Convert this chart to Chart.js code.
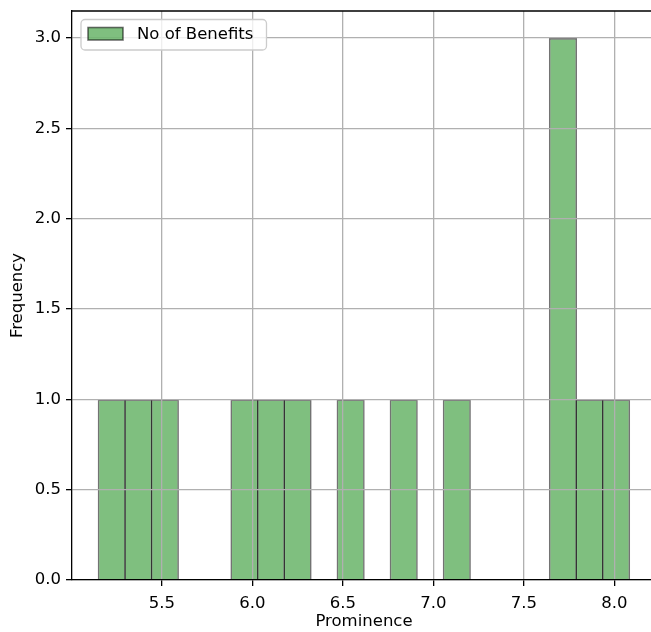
<!DOCTYPE html>
<html lang="en">
<head>
    <meta charset="UTF-8">
    <title>Prominence histogram</title>
    <script src="https://cdn.jsdelivr.net/npm/chart.js@4.4.1/dist/chart.umd.min.js"></script>
    <style>
        body {
            margin: 0;
            background: #ffffff;
            overflow: hidden;
        }
        .chart-container {
            position: relative;
            width: 660px;
            height: 632px;
        }
    </style>
</head>
<body>
    <div class="chart-container">
        <canvas id="histChart"></canvas>
    </div>

    <script>
        // --- Histogram data (20 bins) ---
        const binCenters = [5.2228, 5.3695, 5.5161, 5.6628, 5.8094, 5.9561, 6.1027, 6.2494, 6.3960, 6.5427,
                            6.6893, 6.8360, 6.9826, 7.1293, 7.2759, 7.4226, 7.5692, 7.7159, 7.8625, 8.0092];
        const binCounts  = [1, 1, 1, 0, 0, 1, 1, 1, 0, 1,
                            0, 1, 0, 1, 0, 0, 0, 3, 1, 1];
        const seriesLabel = 'No of Benefits';
        const xTicks = [5.5, 6.0, 6.5, 7.0, 7.5, 8.0];
        const yTicks = [0.0, 0.5, 1.0, 1.5, 2.0, 2.5, 3.0];
        const xRange = [5.003, 8.230];
        const yRange = [0, 3.15];

        const FONT = "'DejaVu Sans', sans-serif";
        const barFill = 'rgba(0, 128, 0, 0.5)';
        const barEdge = 'rgba(0, 0, 0, 0.55)';

        // top spine + legend box like matplotlib
        const framePlugin = {
            id: 'frame',
            afterDraw(chart) {
                const ctx = chart.ctx;
                const a = chart.chartArea;
                ctx.save();
                ctx.strokeStyle = '#000';
                ctx.lineWidth = 1.3;
                ctx.beginPath();
                ctx.moveTo(a.left, a.top);
                ctx.lineTo(a.right, a.top);
                ctx.lineTo(a.right, a.bottom);
                ctx.stroke();

                // legend
                const x0 = 81, y0 = 19.5, w = 185.5, h = 30.5, r = 4;
                ctx.beginPath();
                ctx.roundRect(x0, y0, w, h, r);
                ctx.fillStyle = 'rgba(255,255,255,0.8)';
                ctx.fill();
                ctx.strokeStyle = '#cccccc';
                ctx.lineWidth = 1.3;
                ctx.stroke();

                ctx.fillStyle = barFill;
                ctx.fillRect(88, 27.5, 35, 12.5);
                ctx.strokeStyle = barEdge;
                ctx.lineWidth = 1.6;
                ctx.strokeRect(88, 27.5, 35, 12.5);

                ctx.fillStyle = '#000';
                ctx.font = '16.5px ' + FONT;
                ctx.textBaseline = 'middle';
                ctx.textAlign = 'left';
                ctx.fillText(chart.data.datasets[0].label, 137, 34.5);
                ctx.restore();
            }
        };

        const ctx = document.getElementById('histChart').getContext('2d');
        new Chart(ctx, {
            type: 'bar',
            data: {
                datasets: [{
                    label: seriesLabel,
                    data: binCenters.map((c, i) => ({ x: c, y: binCounts[i] })),
                    backgroundColor: barFill,
                    borderColor: barEdge,
                    borderWidth: 1.6,
                    borderSkipped: 'start',
                    barPercentage: 1.06,
                    categoryPercentage: 1.0,
                    inflateAmount: 0
                }]
            },
            options: {
                responsive: true,
                maintainAspectRatio: false,
                animation: false,
                events: [],
                layout: { padding: { top: 11, right: 4, left: 0, bottom: 0 } },
                scales: {
                    x: {
                        type: 'linear',
                        min: xRange[0],
                        max: xRange[1],
                        offset: false,
                        afterBuildTicks: s => { s.ticks = xTicks.map(v => ({ value: v })); },
                        afterFit: s => { s.height = 52; s.paddingLeft = 0; s.paddingRight = 0; },
                        grid: { offset: false, color: '#b0b0b0', lineWidth: 1.3, tickColor: '#000', tickLength: 6, tickWidth: 1.3, z: 1 },
                        border: { display: true, color: '#000', width: 1.3, z: 2 },
                        ticks: {
                            color: '#000', padding: 8, maxRotation: 0, autoSkip: false,
                            font: { family: FONT, size: 16.5 },
                            callback: v => v.toFixed(1)
                        },
                        title: { display: true, text: 'Prominence', color: '#000', font: { family: FONT, size: 16.5 }, padding: { top: 0, bottom: 0 } }
                    },
                    y: {
                        min: yRange[0],
                        max: yRange[1],
                        afterBuildTicks: s => { s.ticks = yTicks.map(v => ({ value: v })); },
                        afterFit: s => { s.width = 72; s.paddingTop = 0; s.paddingBottom = 0; },
                        grid: { color: '#b0b0b0', lineWidth: 1.3, tickColor: '#000', tickLength: 6, tickWidth: 1.3, z: 1 },
                        border: { display: true, color: '#000', width: 1.3, z: 2 },
                        ticks: {
                            color: '#000', padding: 5,
                            font: { family: FONT, size: 16.5 },
                            callback: v => v.toFixed(1)
                        },
                        title: { display: true, text: 'Frequency', color: '#000', font: { family: FONT, size: 16.5 }, padding: { top: 8, bottom: 0 } }
                    }
                },
                plugins: {
                    legend: { display: false },
                    tooltip: { enabled: false }
                }
            },
            plugins: [framePlugin]
        });
    </script>
</body>
</html>
